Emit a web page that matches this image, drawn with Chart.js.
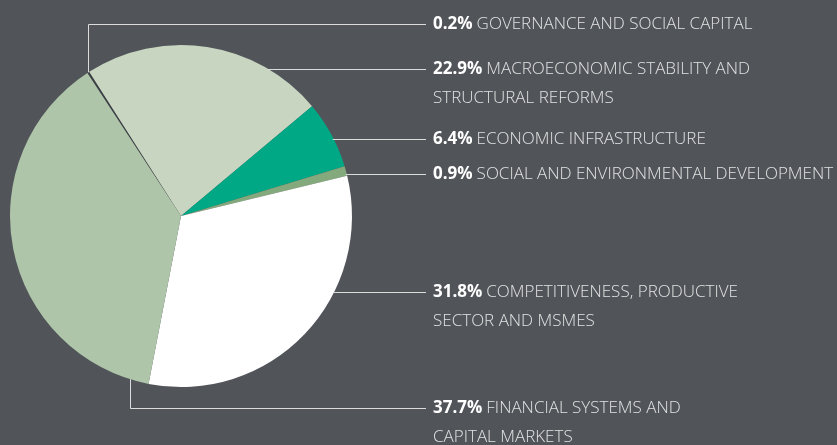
<!DOCTYPE html>
<html>
<head>
<meta charset="utf-8">
<script src="https://cdn.jsdelivr.net/npm/chart.js@4/dist/chart.umd.min.js"></script>
<style>
    html, body { margin: 0; padding: 0; background: #515459; }
    #wrap { position: relative; width: 837px; height: 445px; }
</style>
</head>
<body>
<div id="wrap"><canvas id="chart" width="837" height="445"></canvas></div>
<script>
    // slice data, in drawing order (clockwise from the top-left)
    let shares = [0.2, 22.9, 6.4, 0.9, 31.8, 37.7];
    let shareLabels = ['0.2%', '22.9%', '6.4%', '0.9%', '31.8%', '37.7%'];
    let categories = [
        ['GOVERNANCE AND SOCIAL CAPITAL'],
        ['MACROECONOMIC STABILITY AND', 'STRUCTURAL REFORMS'],
        ['ECONOMIC INFRASTRUCTURE'],
        ['SOCIAL AND ENVIRONMENTAL DEVELOPMENT'],
        ['COMPETITIVENESS, PRODUCTIVE', 'SECTOR AND MSMES'],
        ['FINANCIAL SYSTEMS AND', 'CAPITAL MARKETS']
    ];

    let sliceColors = ['#3b3e42', '#c8d6c1', '#00a886', '#83a97c', '#ffffff', '#afc5aa'];

    // callout layout: y of each leader line, and how it leaves the pie
    let calloutY = [24, 69, 139, 174, 292, 408];
    let calloutKind = ['up', 'flat', 'flat', 'flat', 'flat', 'down'];
    let lineEndX = 426;
    let textX = 433;
    let lineGap = 29;

    let callouts = {
        id: 'callouts',
        afterDraw: function(chart) {
            let ctx = chart.ctx;
            let arcs = chart.getDatasetMeta(0).data;
            ctx.save();
            ctx.strokeStyle = '#dcdcdc';
            ctx.lineWidth = 1;
            arcs.forEach((arc, i) => {
                let cx = arc.x, cy = arc.y, r = arc.outerRadius;
                let y = calloutY[i];
                ctx.beginPath();
                if(calloutKind[i] == 'flat') {
                    let dy = y - cy;
                    let x0 = cx + Math.sqrt(r * r - dy * dy);
                    ctx.moveTo(x0 - 1, y + 0.5);
                    ctx.lineTo(lineEndX, y + 0.5);
                } else {
                    let mid = (arc.startAngle + arc.endAngle) / 2;
                    let px = cx + Math.cos(mid) * r;
                    let py = cy + Math.sin(mid) * r;
                    if(calloutKind[i] == 'down') {
                        px = 130;
                        py = cy + Math.sqrt(r * r - (px - cx) * (px - cx));
                    }
                    px = Math.round(px) + 0.5;
                    ctx.moveTo(px, py);
                    ctx.lineTo(px, y + 0.5);
                    ctx.lineTo(lineEndX, y + 0.5);
                }
                ctx.stroke();

                ctx.textBaseline = 'alphabetic';
                let base = y + 4.5;
                ctx.font = 'bold 17px "Open Sans"';
                ctx.fillStyle = '#ffffff';
                ctx.fillText(shareLabels[i], textX, base);
                let w = ctx.measureText(shareLabels[i]).width + 4;
                ctx.font = '300 17px "Open Sans"';
                ctx.fillStyle = '#e2e2e2';
                categories[i].forEach((line, k) => {
                    ctx.fillText(line, k == 0 ? textX + w : textX, base + k * lineGap);
                });
            });
            ctx.restore();
        }
    };

    new Chart(document.getElementById('chart').getContext('2d'), {
        type: 'pie',
        data: {
            labels: categories.map(c => c.join(' ')),
            datasets: [{
                data: shares,
                backgroundColor: sliceColors,
                borderWidth: 0
            }]
        },
        options: {
            responsive: false,
            animation: false,
            rotation: -33.2,
            layout: { padding: { left: 10, top: 45, right: 485, bottom: 58 } },
            plugins: {
                legend: { display: false },
                tooltip: { enabled: false }
            }
        },
        plugins: [callouts]
    });
</script>
</body>
</html>
